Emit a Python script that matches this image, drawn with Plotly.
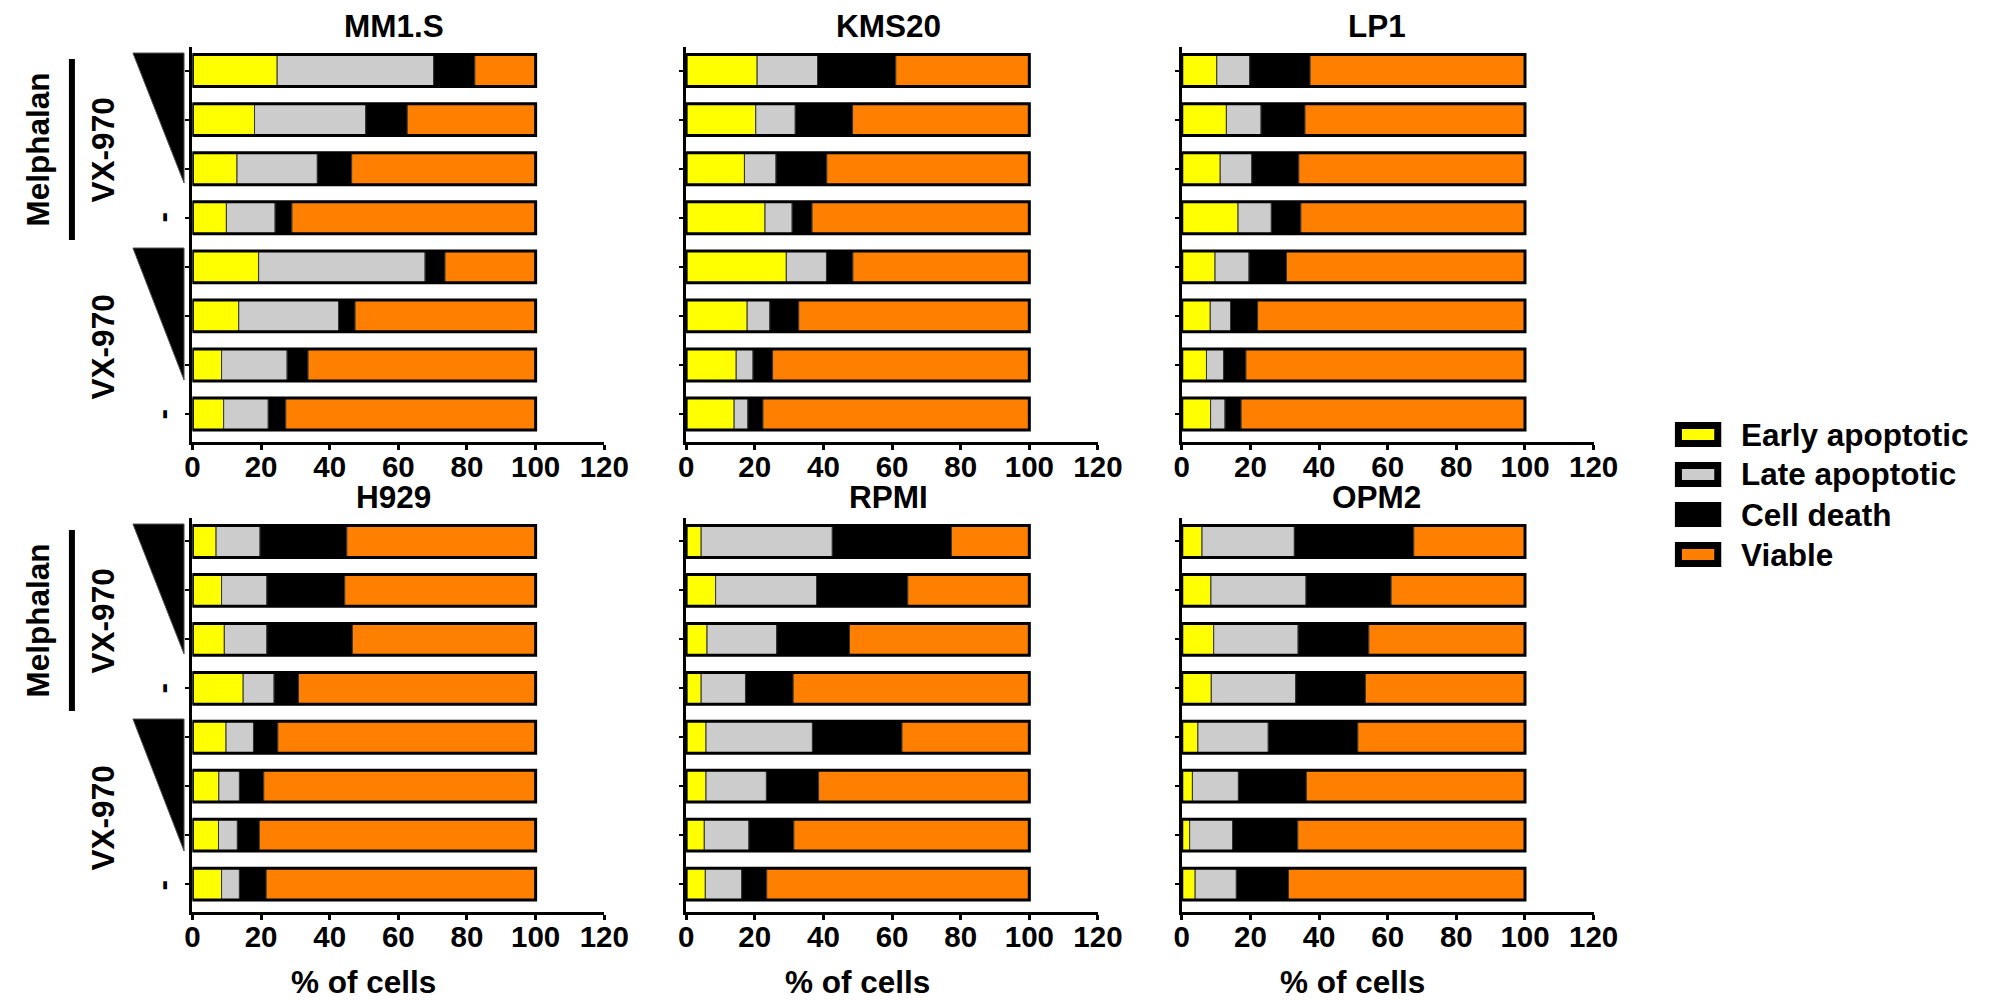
import plotly.graph_objects as go

W, H = 1996, 1000

# Treatment conditions, top to bottom within each panel
conditions = [
    "Melphalan + VX-970 high", "Melphalan + VX-970 mid", "Melphalan + VX-970 low", "Melphalan",
    "VX-970 high", "VX-970 mid", "VX-970 low", "Untreated",
]
cell_lines = ["MM1.S", "KMS20", "LP1", "H929", "RPMI", "OPM2"]
phases = ["Early apoptotic", "Late apoptotic", "Cell death", "Viable"]
phase_colors = ["#FFFF00", "#CCCCCC", "#000000", "#FF8000"]
x_ticks = [0, 20, 40, 60, 80, 100, 120]

# % of cells per condition
mm1s_early = [24.7, 18.1, 13.0, 9.9, 19.3, 13.5, 8.5, 9.1]
mm1s_late = [45.6, 32.4, 23.4, 14.2, 48.5, 29.1, 19.1, 13.0]
mm1s_death = [12.0, 12.1, 10.0, 4.9, 5.8, 4.8, 6.1, 5.1]
mm1s_viable = [17.7, 37.4, 53.6, 71.0, 26.4, 52.6, 66.3, 72.8]

kms20_early = [20.7, 20.3, 17.0, 23.0, 29.2, 17.8, 14.6, 14.0]
kms20_late = [17.6, 11.5, 9.2, 7.9, 11.7, 6.6, 4.9, 4.0]
kms20_death = [22.8, 16.7, 14.8, 5.8, 7.7, 8.4, 5.7, 4.4]
kms20_viable = [38.9, 51.5, 59.0, 63.3, 51.4, 67.2, 74.8, 77.6]

lp1_early = [10.2, 13.0, 11.2, 16.4, 9.7, 8.3, 7.2, 8.4]
lp1_late = [9.6, 10.1, 9.2, 9.7, 9.9, 5.9, 5.0, 4.2]
lp1_death = [17.6, 12.8, 13.7, 8.6, 10.9, 7.9, 6.5, 4.7]
lp1_viable = [62.6, 64.1, 65.9, 65.3, 69.5, 77.9, 81.3, 82.7]

h929_early = [6.9, 8.5, 9.3, 14.8, 9.8, 7.7, 7.6, 8.5]
h929_late = [12.8, 13.2, 12.4, 9.0, 8.0, 6.0, 5.5, 5.2]
h929_death = [25.3, 22.7, 24.9, 7.1, 7.1, 7.1, 6.4, 7.8]
h929_viable = [55.0, 55.6, 53.4, 69.1, 75.1, 79.2, 80.5, 78.5]

rpmi_early = [4.4, 8.6, 6.1, 4.4, 5.8, 5.8, 5.3, 5.6]
rpmi_late = [38.2, 29.4, 20.3, 12.9, 31.0, 17.6, 13.0, 10.6]
rpmi_death = [34.7, 26.6, 21.2, 13.9, 26.1, 15.2, 13.1, 7.3]
rpmi_viable = [22.7, 35.4, 52.4, 68.8, 37.1, 61.4, 68.6, 76.5]

opm2_early = [5.9, 8.5, 9.3, 8.6, 4.7, 3.1, 2.3, 3.9]
opm2_late = [26.9, 27.7, 24.6, 24.6, 20.5, 13.4, 12.5, 12.0]
opm2_death = [34.8, 24.8, 20.6, 20.3, 26.1, 19.8, 19.0, 15.2]
opm2_viable = [32.4, 39.0, 45.5, 46.5, 48.7, 63.7, 66.2, 68.9]

panels = [
    (mm1s_early, mm1s_late, mm1s_death, mm1s_viable),
    (kms20_early, kms20_late, kms20_death, kms20_viable),
    (lp1_early, lp1_late, lp1_death, lp1_viable),
    (h929_early, h929_late, h929_death, h929_viable),
    (rpmi_early, rpmi_late, rpmi_death, rpmi_viable),
    (opm2_early, opm2_late, opm2_death, opm2_viable),
]

FONT = "Liberation Sans"


def fx(px):
    return px / W


def fy(py):
    return 1 - py / H


col_left = [187.5, 689.5, 1193.5]
axis_w = 418.8          # pixels for 0..120
row_top = [47, 518]
row_bottom = [442, 912]
row_shift = [0, 471]

fig = go.Figure()
layout_axes = {}

for i, (name, series) in enumerate(zip(cell_lines, panels)):
    r, c = divmod(i, 3)
    n = i + 1
    xa = "x" if n == 1 else f"x{n}"
    ya = "y" if n == 1 else f"y{n}"
    base = [0.0] * len(conditions)
    for phase, color, vals in zip(phases, phase_colors, series):
        fig.add_trace(go.Bar(
            y=conditions, x=vals, base=base, orientation="h",
            width=0.65, name=phase, showlegend=False,
            marker=dict(color=color, line=dict(color="#333333", width=1)),
            xaxis=xa, yaxis=ya,
        ))
        base = [b + v for b, v in zip(base, vals)]
    # thick outline around each full bar
    fig.add_trace(go.Bar(
        y=conditions, x=base, base=[0.0] * len(conditions), orientation="h",
        width=0.65, showlegend=False, hoverinfo="skip",
        marker=dict(color="rgba(0,0,0,0)", line=dict(color="black", width=3)),
        xaxis=xa, yaxis=ya,
    ))
    x0 = col_left[c]
    layout_axes["xaxis" if n == 1 else f"xaxis{n}"] = dict(
        domain=[fx(x0), fx(x0 + axis_w)], anchor=ya, range=[0, 120],
        tickvals=x_ticks, showline=True, linewidth=3, linecolor="black",
        ticks="outside", ticklen=5, tickwidth=3, tickcolor="black",
        ticklabelstandoff=-8,
        showgrid=False, zeroline=False,
        tickfont=dict(family=FONT, size=29.5, color="black", weight="bold"),
    )
    layout_axes["yaxis" if n == 1 else f"yaxis{n}"] = dict(
        domain=[fy(row_bottom[r]), fy(row_top[r])], anchor=xa,
        type="category", categoryarray=conditions, range=[7.57, -0.48],
        showline=True, linewidth=3, linecolor="black", showticklabels=False,
        ticks="outside", ticklen=4, tickwidth=2, tickcolor="black",
        showgrid=False, zeroline=False,
    )

fig.update_layout(
    width=W, height=H, margin=dict(l=0, r=0, t=0, b=0),
    paper_bgcolor="white", plot_bgcolor="white", barmode="overlay",
    showlegend=False, **layout_axes,
)

annotations = []
shapes = []


def text(x, y, s, size=31.5, angle=0):
    annotations.append(dict(
        x=fx(x), y=fy(y), xref="paper", yref="paper", text=s, showarrow=False,
        xanchor="center", yanchor="middle", textangle=angle,
        font=dict(family=FONT, size=size, color="black", weight="bold"),
    ))


title_x = [392, 895, 1392]
for i, name in enumerate(cell_lines):
    r, c = divmod(i, 3)
    text(title_x[c], 26 + row_shift[r], name)
    if r == 1:
        text(col_left[c] + 174, 982, "% of cells")

# treatment annotations on the left of each row
for dy in row_shift:
    text(30, 150 + dy, "Melphalan", angle=-90)
    shapes.append(dict(type="line", xref="paper", yref="paper",
                       x0=fx(65), x1=fx(65), y0=fy(59 + dy), y1=fy(240 + dy),
                       line=dict(color="black", width=6)))
    for ty, span in ((53, 130), (248, 132)):
        t0, t1 = ty + dy, ty + dy + span
        path = (f"M {fx(127)} {fy(t0)} L {fx(179)} {fy(t0)} "
                f"L {fx(179)} {fy(t1)} Z")
        shapes.append(dict(type="path", xref="paper", yref="paper", path=path,
                           fillcolor="black", line=dict(color="#555555", width=1)))
    text(97, 150 + dy, "VX-970", angle=-90)
    text(97, 347 + dy, "VX-970", angle=-90)
    text(157, 217 + dy, "-", angle=-90)
    text(157, 414 + dy, "-", angle=-90)

# legend
for k, (phase, color) in enumerate(zip(phases, phase_colors)):
    cy = 434.5 + 40 * k
    shapes.append(dict(type="rect", xref="paper", yref="paper",
                       x0=fx(1698.5), x1=fx(1738.5), y0=fy(cy - 9), y1=fy(cy + 9),
                       fillcolor=color, line=dict(color="black", width=7)))
    annotations.append(dict(
        x=fx(1760), y=fy(cy), xref="paper", yref="paper", text=phase,
        showarrow=False, xanchor="left", yanchor="middle",
        font=dict(family=FONT, size=31.5, color="black", weight="bold"),
    ))

fig.update_layout(annotations=annotations, shapes=shapes)
fig.write_html("out.html")
